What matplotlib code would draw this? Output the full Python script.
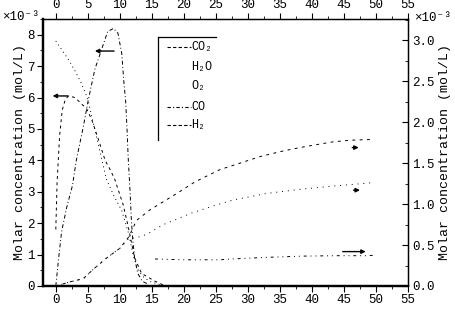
import matplotlib
matplotlib.use('Agg')
import matplotlib.pyplot as plt
import numpy as np

plt.rcParams['font.family'] = ['Liberation Mono', 'DejaVu Sans Mono']

# left axis species (x10^-3 mol/L)
c1_x = [0, 1, 2, 3, 4, 5, 5.5, 6.3, 7.1, 7.9, 9, 10.3, 11.4, 12.1, 12.9, 13.6, 14.7, 16.2]
c1_y = [7.8, 7.5, 7.2, 6.85, 6.45, 5.95, 5.5, 4.8, 4.1, 3.4, 2.9, 2.4, 1.65, 0.95, 0.5, 0.3, 0.14, 0.05]

c2_x = [0, 0.2, 0.6, 1.0, 1.5, 2, 3, 4, 4.8, 5.6, 6.6, 7.7, 8.5, 9.2, 10.5, 11.3, 11.8, 12.3, 13.4, 15.5, 16.8]
c2_y = [1.8, 3.3, 4.8, 5.6, 5.95, 6.05, 6.0, 5.8, 5.65, 5.3, 4.7, 4.0, 3.7, 3.4, 2.6, 1.9, 1.4, 0.9, 0.4, 0.15, 0.03]

c3_x = [0, 0.4, 0.9, 1.7, 2.6, 3.2, 4.3, 5.05, 6.1, 7.1, 8.1, 9, 9.7, 10.3, 10.6, 10.9, 11.1, 11.3, 11.6, 11.8, 12.0, 12.3, 12.8, 13.5, 14.5]
c3_y = [0, 0.8, 1.73, 2.5, 3.2, 4.0, 5.07, 5.9, 6.9, 7.5, 8.1, 8.2, 8.05, 7.4, 6.56, 5.9, 5.1, 4.1, 3.0, 2.1, 1.5, 0.9, 0.4, 0.15, 0.05]

# right axis species (x10^-3 mol/L)
c4_x = [0, 2.2, 4.3, 5.8, 7.9, 10, 11.4, 12.6, 14.7, 16.8, 18.9, 21.7, 25.6, 28.75, 31.9, 35, 38.1, 41, 43.3, 46, 49.6]
c4_y = [0, 0.05, 0.09, 0.2, 0.34, 0.46, 0.6, 0.8, 0.93, 1.03, 1.13, 1.27, 1.42, 1.5, 1.58, 1.64, 1.69, 1.73, 1.76, 1.78, 1.79]

c5_x = [0, 2.2, 4.3, 5.8, 7.9, 10, 11.4, 12.6, 14.2, 16.8, 21.2, 25.1, 27.7, 32.9, 38.1, 43.3, 49.3]
c5_y = [0, 0.05, 0.09, 0.2, 0.34, 0.46, 0.58, 0.59, 0.63, 0.75, 0.89, 0.99, 1.05, 1.13, 1.18, 1.22, 1.26]

c6_x = [15.5, 20, 25.6, 27.5, 33, 38.6, 44, 48.8, 49.5]
c6_y = [0.33, 0.32, 0.32, 0.33, 0.35, 0.365, 0.37, 0.37, 0.375]

legend_names = ['CO₂', 'H₂O', 'O₂', 'CO', 'H₂']

fig = plt.figure(figsize=(4.55, 3.09), dpi=100)
ax = fig.add_axes([43 / 455, 23 / 309, 365 / 455, 267 / 309])
ax2 = ax.twinx()

lw = 0.7
ax.plot(c1_x, c1_y, color='k', lw=lw, ls=(0, (1, 3.5)))
ax.plot(c2_x, c2_y, color='k', lw=lw, ls=(0, (3, 3.5)))
ax.plot(c3_x, c3_y, color='k', lw=lw, ls=(0, (4, 2.5, 1, 2.5)))
ax2.plot(c4_x, c4_y, color='k', lw=lw, ls=(0, (3, 4.5)))
ax2.plot(c5_x, c5_y, color='k', lw=lw, ls=(0, (1, 5)))
ax2.plot(c6_x, c6_y, color='k', lw=lw, ls=(0, (3, 4, 1, 4, 1, 4)))

# axis indicator arrows
ap = dict(arrowstyle='-|>', color='k', lw=1, mutation_scale=6, shrinkA=0, shrinkB=0)
ax.annotate('', xy=(6.1, 7.48), xytext=(9.1, 7.48), arrowprops=ap)
ax.annotate('', xy=(-0.5, 6.05), xytext=(1.9, 6.05), arrowprops=ap)
ax2.annotate('', xy=(47.3, 1.69), xytext=(46.3, 1.69), arrowprops=ap)
ax2.annotate('', xy=(47.5, 1.17), xytext=(46.5, 1.17), arrowprops=ap)
ax2.annotate('', xy=(48.4, 0.42), xytext=(44.8, 0.42), arrowprops=ap)

ax.set_xlim(-2, 55)
ax.set_ylim(0, 8.5)
ax2.set_ylim(0, 3.26)

ax.set_xticks(np.arange(0, 56, 5))
ax.set_xticks(np.arange(0, 56, 2.5), minor=True)
ax.set_yticks(np.arange(0, 9, 1))
ax.set_yticks(np.arange(0, 8.6, 0.5), minor=True)
ax2.set_yticks(np.arange(0, 3.1, 0.5))
ax2.set_yticks(np.arange(0, 3.26, 0.25), minor=True)
ax2.set_yticklabels([f'{v:.1f}' for v in np.arange(0, 3.1, 0.5)])

ax.tick_params(axis='x', which='both', direction='out', top=True, labeltop=True,
               labelsize=9, pad=2)
ax.tick_params(axis='y', which='both', direction='out', labelsize=9, pad=2)
ax.tick_params(which='major', length=4)
ax.tick_params(which='minor', length=2.5)
ax2.tick_params(axis='y', which='both', direction='in', labelsize=9, pad=3)
ax2.tick_params(which='major', length=4)
ax2.tick_params(which='minor', length=2.5)

for a in (ax, ax2):
    a.spines['left'].set_linewidth(1.6)
    a.spines['bottom'].set_linewidth(1.6)
    a.spines['top'].set_linewidth(0.9)
    a.spines['right'].set_linewidth(0.9)

ax.set_ylabel('Molar concentration (mol/L)', fontsize=9.5, labelpad=1)
ax2.set_ylabel('Molar concentration (mol/L)', fontsize=9.5, rotation=90, labelpad=3)

fig.text(2 / 455, 1 - 17 / 309, '×10⁻³', fontsize=9, va='center', ha='left')
fig.text(414 / 455, 1 - 18 / 309, '×10⁻³', fontsize=9, va='center', ha='left')

# partial legend box (top and left border only)
tr = ax.transAxes
ax.plot([0.315, 0.474], [0.933, 0.933], color='k', lw=0.9, transform=tr, clip_on=False)
ax.plot([0.315, 0.315], [0.933, 0.547], color='k', lw=0.9, transform=tr, clip_on=False)
leg_y = [0.895, 0.820, 0.749, 0.670, 0.603]
leg_ls = [(0, (3, 2)), None, None, (0, (3, 2, 1, 2)), (0, (3, 2))]
for name, yy, ls in zip(legend_names, leg_y, leg_ls):
    if ls is not None:
        ax.plot([0.34, 0.405], [yy, yy], color='k', lw=0.8, ls=ls, transform=tr)
    ax.text(0.407, yy, name, fontsize=8.5, va='center', ha='left', transform=tr)

fig.savefig('out.png', dpi=100)
